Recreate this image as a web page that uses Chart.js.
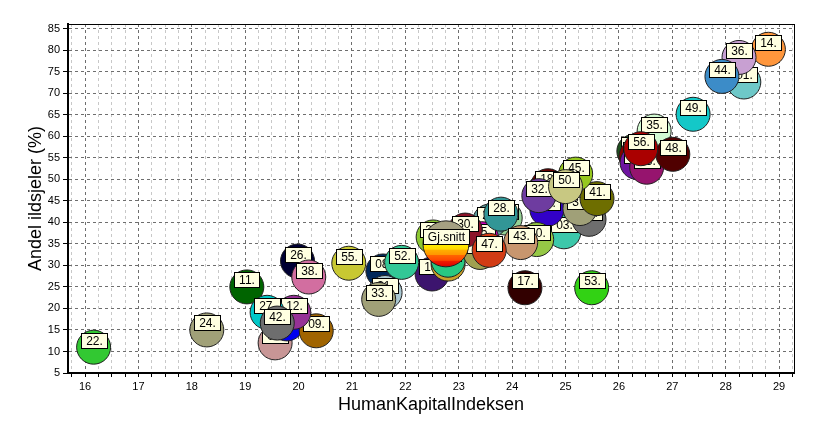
<!DOCTYPE html>
<html>
<head>
<meta charset="utf-8">
<title>Andel ildsjeler og HumanKapitalIndeksen</title>
<script src="https://cdn.jsdelivr.net/npm/chart.js@4.4.1/dist/chart.umd.min.js"></script>
<style>
  html, body { margin: 0; padding: 0; background: #fff; }
  #wrap { width: 818px; height: 433px; }
</style>
</head>
<body>
<div id="wrap"><canvas id="chart" width="818" height="433"></canvas></div>
<script>
// Bubble labels, in drawing order (later ones end up on top)
const kommuner = [
  '01.', '02.', '03.', '04.', '05.', '06.', '07.', '08.', '09.', '10.',
  '11.', '12.', '13.', '14.', '15.', '16.', '17.', '18.', '19.', '20.',
  '21.', '22.', '23.', '24.', '25.', '26.', '27.', '28.', '29.', '30.',
  '31.', '32.', '33.', '34.', '35.', '36.', '37.', '38.', '40.', '41.',
  '42.', '43.', '44.', '45.', '47.', '48.', '49.', '50.', '52.', '53.',
  '55.', '56.', 'Gj.snitt'
];

// HumanKapitalIndeksen (x)
const hkIndeks = [
  28.34, 19.56, 24.97, 19.78, 24.65, 26.28, 26.32, 21.58, 20.33, 26.34,
  19.03, 19.91, 26.52, 28.80, 22.50, 22.80, 24.24, 24.67, 22.80, 23.87,
  22.52, 16.16, 23.58, 18.28, 23.43, 19.98, 19.41, 23.79, 23.40, 23.12,
  21.62, 24.50, 21.50, 25.44, 26.66, 28.25, 25.27, 20.19, 24.46, 25.59,
  19.60, 24.16, 27.93, 25.19, 23.57, 27.01, 27.39, 25.00, 21.93, 25.49,
  20.94, 26.41, 22.76
];

// Andel ildsjeler i prosent (y)
const andelIldsjeler = [
  72.6, 12.0, 37.8, 16.4, 43.0, 56.5, 55.3, 28.7, 14.8, 53.9,
  25.0, 19.1, 52.8, 80.2, 28.0, 30.3, 24.8, 48.5, 31.2, 41.0,
  36.6, 11.0, 40.3, 15.0, 36.2, 31.0, 19.1, 41.9, 33.0, 38.2,
  23.7, 46.2, 22.1, 40.7, 61.2, 78.3, 43.2, 27.3, 36.0, 45.5,
  16.6, 35.3, 73.9, 51.2, 33.5, 55.8, 65.1, 48.3, 30.7, 24.8,
  30.5, 57.1, 35.0
];

const bubbleColors = [
  'rgb(110,200,200)', 'rgb(200,150,150)', 'rgb(60,200,170)', 'rgb(0,0,240)', 'rgb(50,0,200)',
  'rgb(30,80,30)', 'rgb(130,0,0)', 'rgb(0,40,90)', 'rgb(160,100,0)', 'rgb(110,20,160)',
  'rgb(0,100,0)', 'rgb(150,50,150)', 'rgb(150,20,110)', 'rgb(255,150,60)', 'rgb(60,20,110)',
  'rgb(200,160,40)', 'rgb(50,0,0)', 'rgb(100,0,0)', 'rgb(40,200,130)', 'rgb(150,210,150)',
  'rgb(140,200,50)', 'rgb(50,200,50)', 'rgb(90,150,150)', 'rgb(160,160,120)', 'rgb(200,0,180)',
  'rgb(0,0,50)', 'rgb(0,200,200)', 'rgb(50,150,150)', 'rgb(160,160,80)', 'rgb(140,20,40)',
  'rgb(170,200,210)', 'rgb(110,60,160)', 'rgb(160,160,120)', 'rgb(110,110,110)', 'rgb(210,250,210)',
  'rgb(200,160,210)', 'rgb(160,160,120)', 'rgb(210,110,160)', 'rgb(150,200,70)', 'rgb(110,110,0)',
  'rgb(110,110,110)', 'rgb(200,150,110)', 'rgb(60,140,200)', 'rgb(150,200,30)', 'rgb(210,60,20)',
  'rgb(80,0,0)', 'rgb(20,200,200)', 'rgb(200,200,130)', 'rgb(50,200,150)', 'rgb(50,210,20)',
  'rgb(200,200,50)', 'rgb(170,0,0)', 'rgb(165,160,130)'
];

const xTicks = [16, 17, 18, 19, 20, 21, 22, 23, 24, 25, 26, 27, 28, 29];
const yTicks = [5, 10, 15, 20, 25, 30, 35, 40, 45, 50, 55, 60, 65, 70, 75, 80, 85];

const X_MIN = 15.68, X_MAX = 29.28;
const Y_MIN = 5, Y_MAX = 86.07;

// quarter steps between the integer ticks, light grid
const xMinorTicks = [];
for (const v of [15].concat(xTicks)) {
  [0.25, 0.5, 0.75].forEach(f => {
    if (v + f > X_MIN && v + f < X_MAX) xMinorTicks.push(v + f);
  });
}

const tickFont = { family: '"Liberation Sans", Arial, sans-serif', size: 11 };
const titleFont = { family: '"Liberation Sans", Arial, sans-serif', size: 18 };

// average bubble: grey top, yellow->red bands at the bottom
function snittFill(context) {
  const chart = context.chart;
  if (!chart.chartArea || !context.raw) return bubbleColors[bubbleColors.length - 1];
  const cy = chart.scales.y.getPixelForValue(context.raw.y);
  const r = 23;
  const g = chart.ctx.createLinearGradient(0, cy - r, 0, cy + r);
  g.addColorStop(0, 'rgb(165,160,130)');
  g.addColorStop(0.5, 'rgb(165,160,130)');
  g.addColorStop(0.51, 'rgb(255,240,0)');
  g.addColorStop(0.62, 'rgb(255,215,0)');
  g.addColorStop(0.63, 'rgb(255,175,0)');
  g.addColorStop(0.74, 'rgb(255,150,0)');
  g.addColorStop(0.75, 'rgb(255,100,0)');
  g.addColorStop(0.86, 'rgb(255,70,0)');
  g.addColorStop(0.87, 'rgb(240,30,0)');
  g.addColorStop(1, 'rgb(220,0,0)');
  return g;
}

// small yellow name tag drawn right after each bubble
const labelBoxes = {
  id: 'labelBoxes',
  afterDatasetDraw(chart, args) {
    const el = args.meta.data[0];
    if (!el) return;
    const text = chart.data.datasets[args.index].label;
    const ctx = chart.ctx;
    ctx.save();
    ctx.font = '12px "Liberation Sans", Arial, sans-serif';
    const w = Math.round(ctx.measureText(text).width) + 9;
    const h = 15;
    const bx = Math.round(el.x - w / 2) + 0.5;
    const by = Math.round(el.y - 7 - h / 2) + 0.5;
    ctx.fillStyle = '#ffffe1';
    ctx.fillRect(bx, by, w, h);
    ctx.strokeStyle = '#000';
    ctx.lineWidth = 1;
    ctx.strokeRect(bx, by, w, h);
    ctx.fillStyle = '#000';
    ctx.textAlign = 'center';
    ctx.textBaseline = 'middle';
    ctx.fillText(text, bx + w / 2, by + h / 2 + 0.5);
    ctx.restore();
  }
};

const n = kommuner.length;
const datasets = kommuner.map((lbl, i) => ({
  label: lbl,
  data: [{ x: hkIndeks[i], y: andelIldsjeler[i] }],
  backgroundColor: lbl === 'Gj.snitt' ? snittFill : bubbleColors[i],
  borderColor: '#202020',
  borderWidth: 1,
  radius: lbl === 'Gj.snitt' ? 23 : 17,
  order: n - i
}));

new Chart(document.getElementById('chart'), {
  type: 'bubble',
  data: { datasets: datasets },
  plugins: [labelBoxes],
  options: {
    responsive: false,
    devicePixelRatio: 1,
    animation: false,
    events: [],
    layout: { padding: { left: 0, right: 24, top: 17, bottom: 0 } },
    plugins: {
      legend: { display: false },
      tooltip: { enabled: false }
    },
    scales: {
      xMinor: {
        type: 'linear',
        position: 'bottom',
        weight: 0,
        min: X_MIN,
        max: X_MAX,
        afterBuildTicks: a => { a.ticks = xMinorTicks.map(v => ({ value: v })); },
        afterFit: a => { a.height = 0; },
        ticks: { display: false },
        grid: { color: '#c8c8c8', lineWidth: 1, drawTicks: true, tickLength: 4, tickColor: '#000', tickBorderDash: [] },
        border: { display: false, dash: [3, 3] }
      },
      x: {
        type: 'linear',
        position: 'bottom',
        weight: 1,
        min: X_MIN,
        max: X_MAX,
        afterBuildTicks: a => { a.ticks = xTicks.map(v => ({ value: v })); },
        afterFit: a => { a.height = 60; },
        ticks: { color: '#000', font: tickFont, padding: 3, maxRotation: 0, autoSkip: false },
        grid: { color: '#6e6e6e', lineWidth: 1, drawTicks: true, tickLength: 4, tickColor: '#000', tickBorderDash: [] },
        border: { display: true, color: '#000', width: 2, dash: [3, 3] },
        title: {
          display: true,
          text: 'HumanKapitalIndeksen',
          color: '#000',
          font: titleFont,
          padding: { top: 0, bottom: 17 }
        }
      },
      y: {
        type: 'linear',
        position: 'left',
        min: Y_MIN,
        max: Y_MAX,
        afterBuildTicks: a => { a.ticks = yTicks.map(v => ({ value: v })); },
        afterFit: a => { a.width = 68; },
        ticks: { color: '#000', font: tickFont, padding: 3, autoSkip: false },
        grid: { color: '#6e6e6e', lineWidth: 1, drawTicks: true, tickLength: 5, tickColor: '#000', tickBorderDash: [] },
        border: { display: true, color: '#000', width: 2, dash: [3, 3] },
        title: {
          display: true,
          text: 'Andel ildsjeler (%)',
          color: '#000',
          font: titleFont,
          padding: { top: 25, bottom: 0 }
        }
      },
      xTop: {
        type: 'linear',
        position: 'top',
        min: X_MIN,
        max: X_MAX,
        afterFit: a => { a.height = 0; },
        ticks: { display: false },
        grid: { display: false },
        border: { display: true, color: '#000', width: 1 }
      },
      yRight: {
        type: 'linear',
        position: 'right',
        min: Y_MIN,
        max: Y_MAX,
        afterFit: a => { a.width = 0; },
        ticks: { display: false },
        grid: { display: false },
        border: { display: true, color: '#000', width: 1 }
      }
    }
  }
});
</script>
</body>
</html>
